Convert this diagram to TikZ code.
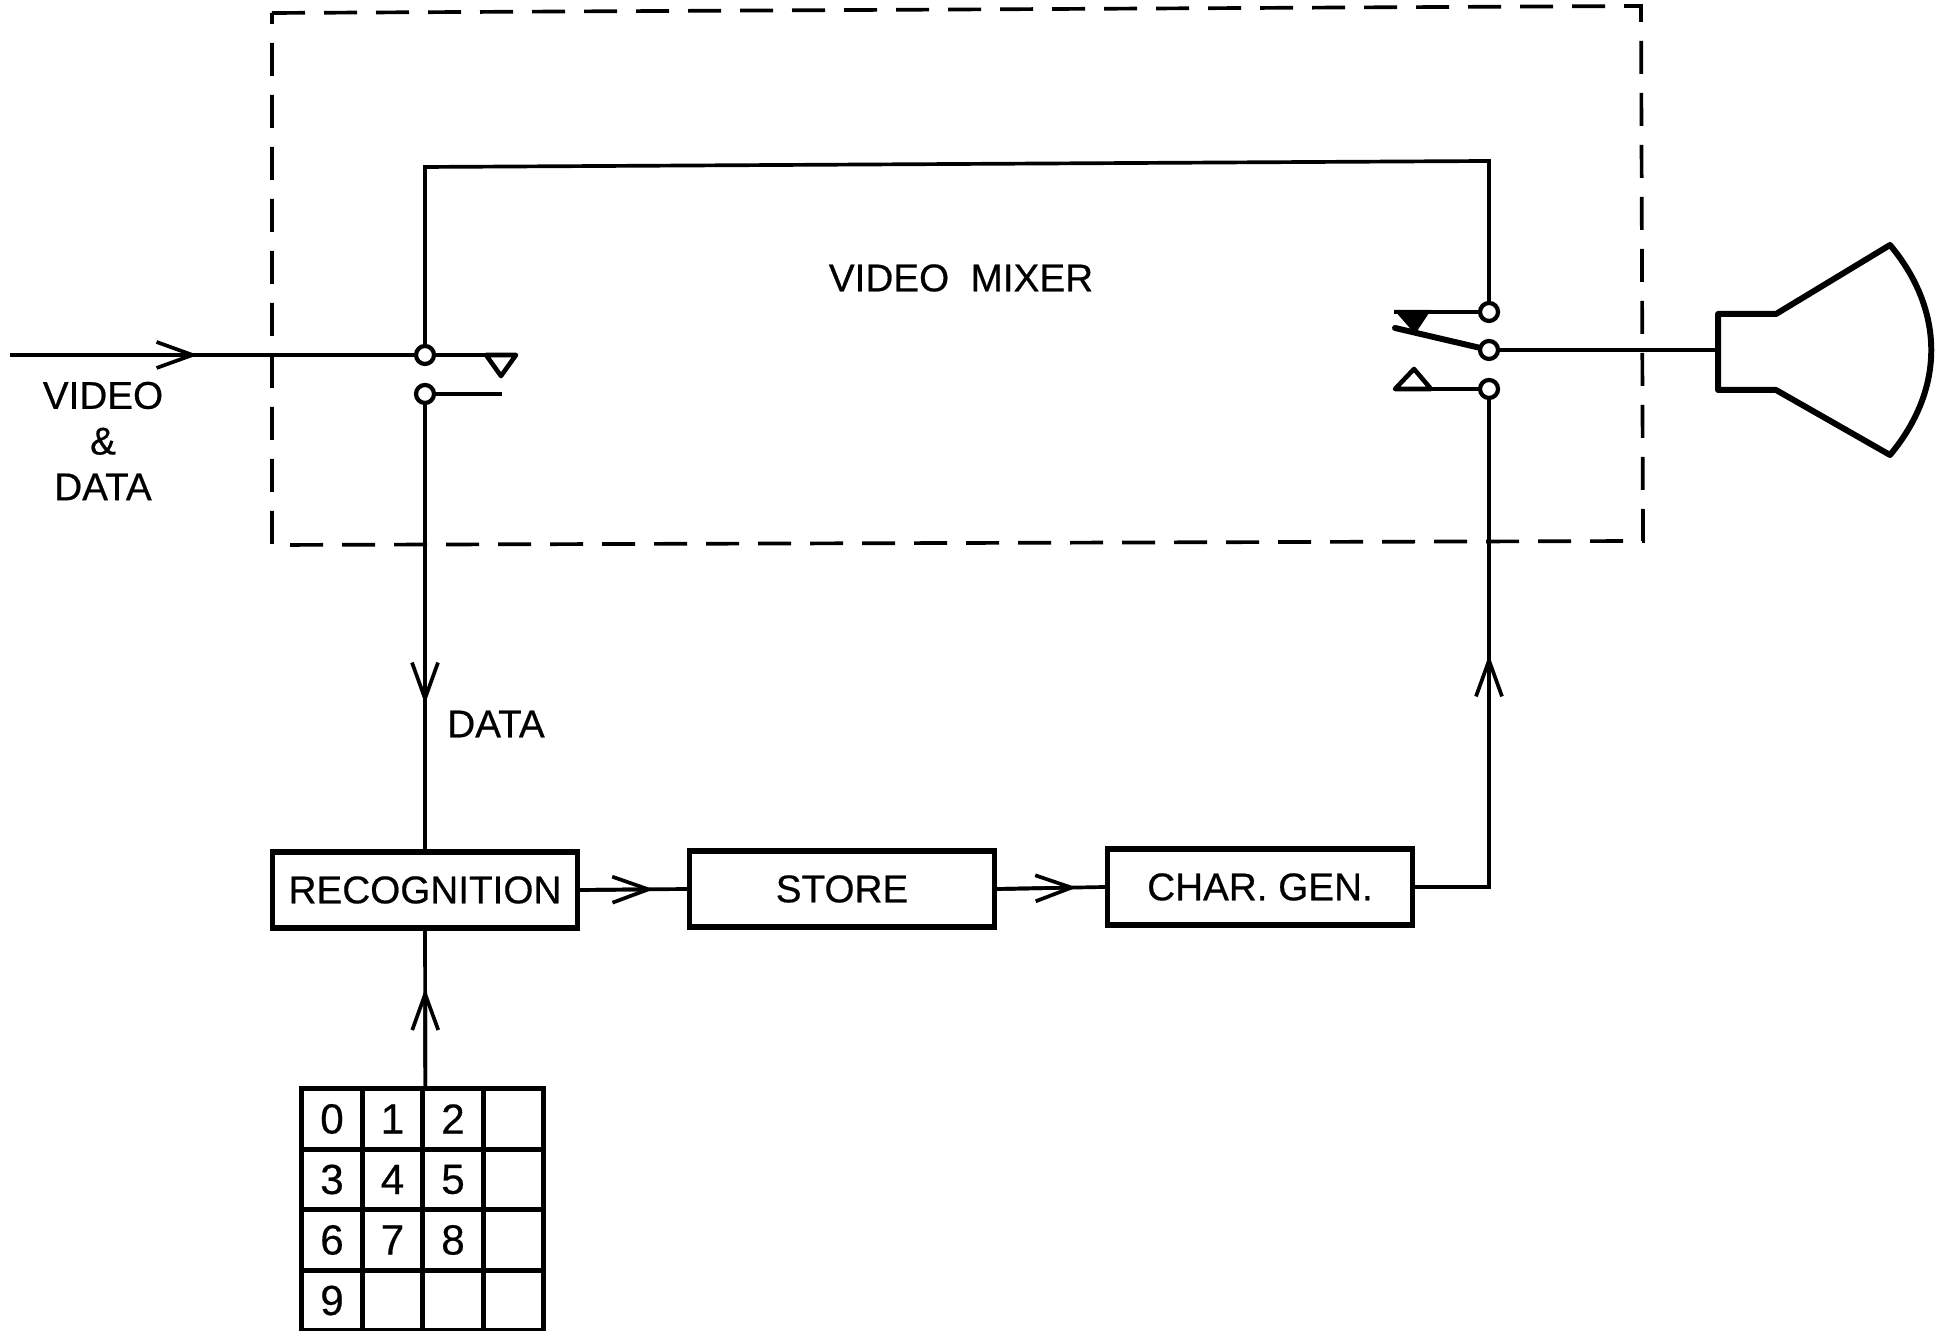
\documentclass[tikz,border=0pt]{standalone}
\usepackage{fontspec}
\setmainfont{Liberation Sans}[FakeBold=0.5]
\usetikzlibrary{arrows.meta,calc,positioning}
\tikzset{
  wire/.style={line width=1.05pt},
  heavy/.style={line width=1.7pt,line join=round,line cap=round},
  contact/.style={circle,draw,line width=1.2pt,fill=white,inner sep=0pt,minimum size=0.18cm},
  block/.style={draw,line width=1.5pt,inner sep=0pt,minimum height=0.76cm,minimum width=3.05cm,font=\fontsize{11}{12}\selectfont},
  keycell/.style={draw,line width=1.5pt,inner sep=0pt,minimum size=0.605cm,font=\fontsize{12}{13}\selectfont},
  txt/.style={font=\fontsize{11}{13}\selectfont,inner sep=0pt,align=center},
}
\begin{document}
\begin{tikzpicture}[scale=1.0,>={Straight Barb[length=3.6mm,width=2.6mm,line width=1.05pt]}]
\useasboundingbox (0,0) rectangle (19.37,13.31);
% mixer outline
\draw[line width=1.05pt,dash pattern=on 0.33cm off 0.19cm] (2.72,13.18)--(16.41,13.25)--(16.43,7.90)--(2.72,7.86)--cycle;
\node[txt] (mixer) at (9.61,10.53) {VIDEO\ \ MIXER};
\node[txt] (viddata) at (1.03,8.90) {VIDEO\\\&\\DATA};
\node[txt] (datalab) at (4.96,6.07) {DATA};
% switch contacts
\node[contact] (swa) at (4.25,9.76) {};
\node[contact] (swb) at (4.25,9.37) {};
\node[contact] (swc) at (14.89,10.19) {};
\node[contact] (swd) at (14.89,9.81) {};
\node[contact] (swe) at (14.89,9.42) {};
% blocks
\node[block] (rec) at (4.25,4.41) {RECOGNITION};
\node[block] (store) at (8.42,4.42) {STORE};
\node[block] (chargen) at (12.60,4.44) {CHAR. GEN.};
% keypad
\foreach \r/\c/\t in {0/0/0,0/1/1,0/2/2,0/3/,1/0/3,1/1/4,1/2/5,1/3/,2/0/6,2/1/7,2/2/8,2/3/,3/0/9,3/1/,3/2/,3/3/}
  \node[keycell] (k\r\c) at ({3.32+\c*0.605},{2.12-\r*0.605}) {\t};
% arrow heads sit part way along the lines
\coordinate (vidin) at (0.10,9.76);
\coordinate (tipa) at (1.98,9.76);
\coordinate (tipb) at (4.25,6.27);
\coordinate (tipc) at ($(rec.east)!0.69!(store.west)$);
\coordinate (tipd) at ($(store.east)!0.74!(chargen.west)$);
\coordinate (tipe) at (14.89,6.76);
\coordinate (tipf) at ($(k01.north east)!0.627!(rec.south)$);
\coordinate (topl) at (4.25,11.64);
\coordinate (topr) at (14.89,11.70);
\coordinate (scrn) at (17.18,9.81);
\coordinate (armend) at (13.95,10.03);
\coordinate (swaend) at (5.16,9.76);
\coordinate (swbend) at (5.02,9.37);
\coordinate (swcend) at (13.94,10.19);
\coordinate (sweend) at (13.95,9.42);
\draw[wire] (vidin)--(swa);
\draw[->,wire] (vidin)--(tipa);
\draw[wire] (swa)--(topl)--(topr)--(swc);
\draw[wire] (swb)--(rec.north);
\draw[->,wire] (swb)--(tipb);
\draw[wire] (rec.east)--(store.west);
\draw[->,wire] (rec.east)--(tipc);
\draw[wire] (store.east)--(chargen.west);
\draw[->,wire] (store.east)--(tipd);
\draw[wire] (chargen.east)-|(swe);
\draw[->,wire] (chargen.east)-|(tipe);
\draw[wire] (k01.north east)--(rec.south);
\draw[->,wire] (k01.north east)--(tipf);
\draw[wire] (swd)--(scrn);
% switch blades
\draw[line width=1.3pt] (swa)--(swaend);
\draw[line width=1.3pt] (swb)--(swbend);
\draw[line width=1.3pt] (swc)--(swcend);
\draw[line width=1.3pt] (swe)--(sweend);
\draw[heavy] (swd)--(armend);
\draw[line width=1.3pt,line join=round] (4.86,9.76)--(5.16,9.76)--(5.01,9.55)--cycle;
\draw[line width=1.3pt,line join=round] (13.95,9.42)--(14.31,9.42)--(14.14,9.62)--cycle;
\fill (13.94,10.21)--(14.31,10.21)--(14.15,9.97)--cycle;
% picture tube
\draw[heavy] (17.18,10.17)--(17.76,10.17)--(18.90,10.86) .. controls (19.45,10.2) and (19.45,9.42) .. (18.90,8.76)--(17.76,9.41)--(17.18,9.41)--cycle;
\end{tikzpicture}
\end{document}
